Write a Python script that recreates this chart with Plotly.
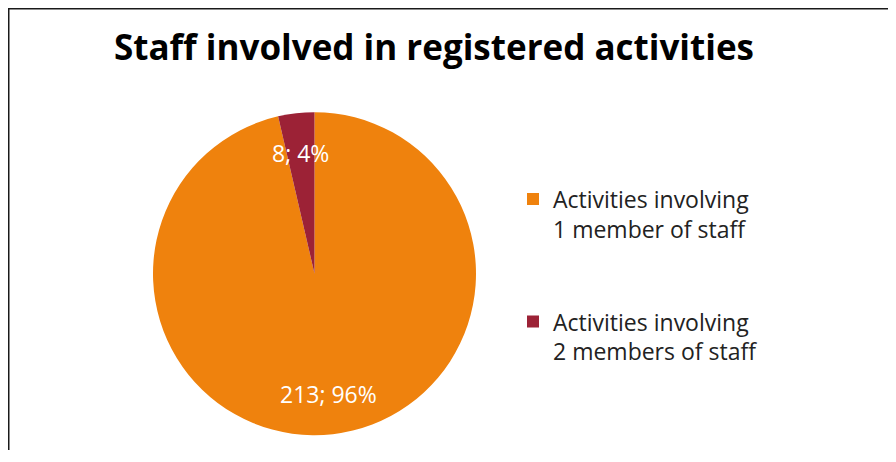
import math
import plotly.graph_objects as go

# ---- data ----
categories = ["Activities involving<br>1 member of staff<br> <br> ",
              "Activities involving<br>2 members of staff<br> <br> "]
values = [213, 8]
colors = ["#EF820D", "#9C2236"]
title_text = "Staff involved in registered activities"

# page is offset by the default 8px body margin; keep the figure inside the window
OFF = 8
W, H = 880, 442
# pie geometry (page pixels -> figure pixels)
cx_px, cy_px, r_px = 314.5 - OFF, 273.7 - OFF, 161.5

fig = go.Figure()
fig.add_trace(go.Pie(
    labels=categories,
    values=values,
    marker=dict(colors=colors, line=dict(width=0)),
    sort=False,
    direction="clockwise",
    rotation=0,
    textinfo="none",
    hoverinfo="label+value+percent",
    domain=dict(x=[(cx_px - r_px) / W, (cx_px + r_px) / W],
                y=[1 - (cy_px + r_px) / H, 1 - (cy_px - r_px) / H]),
))

# data labels placed along each slice's bisector, computed from values
total = sum(values)
cum = 0.0
annotations = []
for v in values:
    mid = (cum + v / 2) / total
    cum += v
    ang = 2 * math.pi * mid  # clockwise from top
    px = cx_px + 0.75 * r_px * math.sin(ang)
    py = cy_px - 0.75 * r_px * math.cos(ang)
    pct = round(100 * v / total)
    annotations.append(dict(
        x=px / W, y=1 - py / H, xref="paper", yref="paper",
        text=f"{v}; {pct}%", showarrow=False,
        font=dict(family="Open Sans", size=23, color="white"),
        xanchor="center", yanchor="middle"))

annotations.append(dict(
    x=(433.5 - OFF) / W, y=1 - (46 - OFF) / H, xref="paper", yref="paper",
    text=f"<b>{title_text}</b>", showarrow=False,
    font=dict(family="Open Sans", size=35, color="#000000"),
    xanchor="center", yanchor="middle"))

fig.update_layout(
    width=W, height=H,
    margin=dict(l=0, r=0, t=0, b=0),
    paper_bgcolor="white",
    plot_bgcolor="white",
    showlegend=True,
    legend=dict(
        x=505 / W, y=1 - 169.5 / H, xanchor="left", yanchor="top",
        font=dict(family="Open Sans", size=23, color="#222222"),
        valign="top", bgcolor="rgba(0,0,0,0)",
    ),
    annotations=annotations,
    shapes=[
        dict(type="line", xref="paper", yref="paper",
             x0=0.75 / W, x1=0.75 / W, y0=1, y1=0,
             line=dict(color="#1a1a1a", width=1.5)),
        dict(type="line", xref="paper", yref="paper",
             x0=0, x1=1, y0=1 - 0.75 / H, y1=1 - 0.75 / H,
             line=dict(color="#1a1a1a", width=1.5)),
    ],
)

fig.write_html("out.html")
